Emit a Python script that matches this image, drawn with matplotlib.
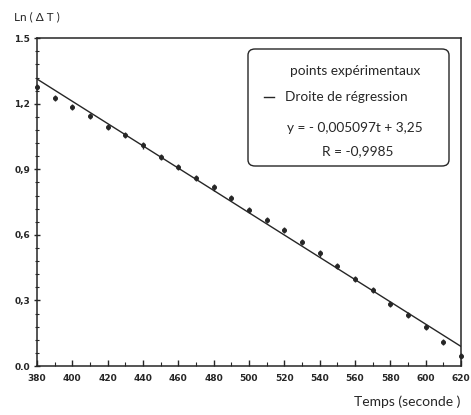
import matplotlib.pyplot as plt
from matplotlib.patches import FancyBboxPatch
from matplotlib.ticker import MultipleLocator
import numpy as np

# data
temps = [380, 390, 400, 410, 420, 430, 440, 450, 460, 470, 480, 490,
         500, 510, 520, 530, 540, 550, 560, 570, 580, 590, 600, 610, 620]
ln_dt = [1.276, 1.227, 1.186, 1.145, 1.094, 1.056, 1.009, 0.957, 0.911, 0.861, 0.817, 0.768,
         0.713, 0.668, 0.622, 0.566, 0.515, 0.457, 0.398, 0.348, 0.283, 0.233, 0.177, 0.111, 0.046]
pente = -0.005097
origine = 3.25

xticks = [380, 400, 420, 440, 460, 480, 500, 520, 540, 560, 580, 600, 620]
yticks = [0.0, 0.3, 0.6, 0.9, 1.2, 1.5]
ylabels = ['0.0', '0,3', '0,6', '0,9', '1,2', '1.5']

ink = '#262626'
police = 'Lato'

fig = plt.figure(figsize=(4.71, 4.15), dpi=100)
ax = fig.add_axes([0.0786, 0.118, 0.900, 0.790])

# points expérimentaux
ax.errorbar(temps, ln_dt, yerr=0.014, fmt='o', ms=2.6, color=ink, elinewidth=1.0,
            capsize=0, clip_on=False, zorder=3)

# droite de régression
t = np.array([380, 620])
ax.plot(t, pente * t + origine, color=ink, lw=1.0, zorder=2)

ax.set_xlim(380, 620)
ax.set_ylim(0, 1.5)
ax.set_xticks(xticks)
ax.set_xticklabels([str(v) for v in xticks], fontsize=6.5, fontweight='bold', color=ink)
ax.set_yticks(yticks)
ax.set_yticklabels(ylabels, fontsize=6.5, fontweight='bold', color=ink)
ax.xaxis.set_minor_locator(MultipleLocator(10))
ax.yaxis.set_minor_locator(MultipleLocator(0.06))
ax.tick_params(axis='x', which='both', direction='in', top=False, color=ink, pad=6)
ax.tick_params(axis='y', which='both', direction='inout', right=False, color=ink, pad=3)
ax.tick_params(which='major', length=4, width=1)
ax.tick_params(which='minor', length=3, width=0.8)
for s in ax.spines.values():
    s.set_color(ink)
    s.set_linewidth(1.1)

# textes des axes
fig.text(14 / 471, 1 - 17 / 415, 'Ln ( Δ T )', fontsize=8.5, family=police,
         color=ink, ha='left', va='center')
fig.text(460 / 471, 1 - 402 / 415, 'Temps (seconde )', fontsize=10, family=police,
         color=ink, ha='right', va='center')

# cadre de légende
box = FancyBboxPatch((248 / 471, 1 - 166 / 415), 201 / 471, 117 / 415,
                     boxstyle='round,pad=0,rounding_size=0.015', transform=fig.transFigure,
                     facecolor='white', edgecolor=ink, lw=1.0)
fig.patches.append(box)
kw = dict(fontsize=9.8, family=police, color=ink, va='center')
fig.text(355 / 471, 1 - 71 / 415, 'points expérimentaux', ha='center', **kw)
fig.text(285 / 471, 1 - 97 / 415, 'Droite de régression', ha='left', **kw)
fig.lines.append(plt.Line2D([264 / 471, 274 / 471], [1 - 97 / 415, 1 - 97 / 415],
                            transform=fig.transFigure, color=ink, lw=1.0))
fig.text(355 / 471, 1 - 128 / 415, 'y = - 0,005097t + 3,25', ha='center', **kw)
fig.text(358 / 471, 1 - 151 / 415, 'R = -0,9985', ha='center', **kw)

plt.savefig('out.png', dpi=100)
